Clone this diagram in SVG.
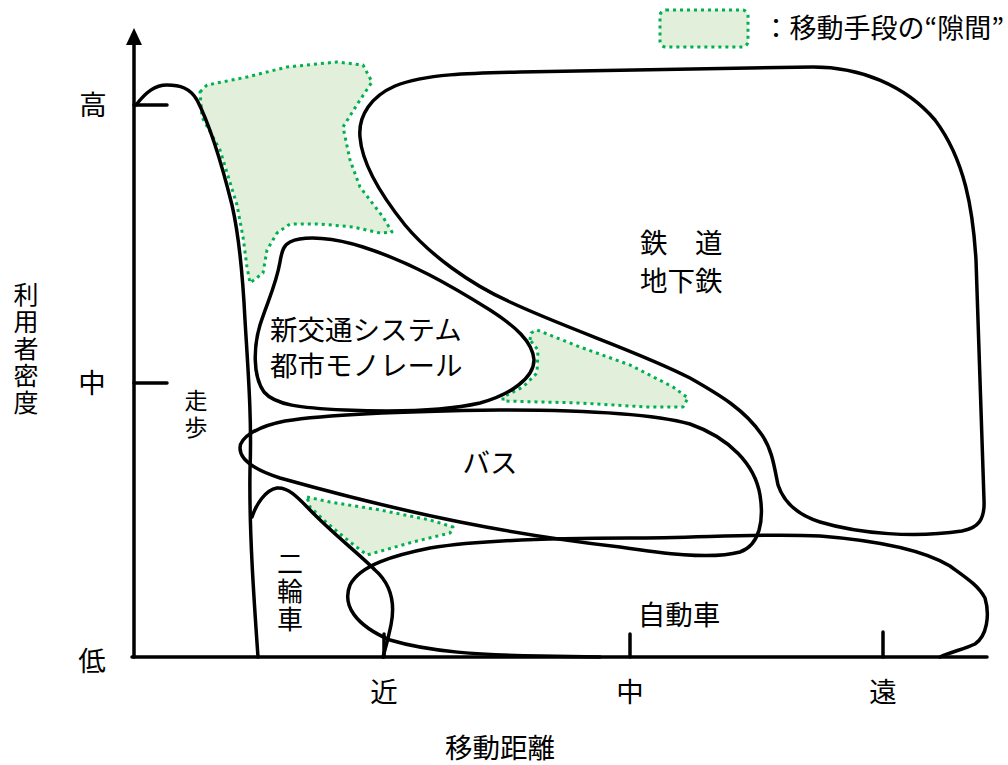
<svg xmlns="http://www.w3.org/2000/svg" width="1008" height="765" viewBox="0 0 1008 765">
<style>
.ln{fill:none;stroke:#000;stroke-width:3.5;stroke-linecap:round;stroke-linejoin:round}
.sh{fill:none;stroke:#000;stroke-width:3.5;stroke-linejoin:round}
.gap{fill:#e2efda;stroke:#00b050;stroke-width:3;stroke-dasharray:3 4;stroke-linejoin:round}
.t{font-family:"Noto Sans CJK JP","Noto Sans",sans-serif;font-size:27.5px;fill:#000}
.tm{text-anchor:middle}
.v{writing-mode:vertical-rl;text-orientation:upright}
</style>
<rect width="1008" height="765" fill="#fff"/>
<g id="gaps">
<path id="gap1" class="gap" d="M200,92 L207,85 L247,77 L287,67 L337,62 L363,65 L372,82 L360,100 L343,127 L350,160 L360,187 L383,217 L392,232 L380,233 L353,227 L320,224 L290,224 L277,233 L267,250 L263,273 L250,283 L247,267 L243,237 L237,205 L220,150 L202,117 Z"/>
<path id="gap2" class="gap" d="M530,340 L531,333 L537,330 L580,347 L630,365 L673,387 L688,398 L683,407 L647,407 L580,403 L503,401 L503,397 L523,387 L537,373 L538,350 Z"/>
<path id="gap3" class="gap" d="M307,497 L330,502 L380,510 L430,520 L453,527 L450,533 L413,542 L367,555 L350,542 L327,523 L310,507 Z"/>
</g>
<g id="axes">
<line class="ln" x1="134" y1="40" x2="134" y2="657" stroke-linecap="butt"/>
<polygon points="134,28 126,45 142,45" fill="#000"/>
<line class="ln" x1="132" y1="657" x2="987" y2="657" stroke-linecap="butt"/>
<line class="ln" x1="134" y1="105" x2="167" y2="105" stroke-linecap="butt"/>
<line class="ln" x1="134" y1="383" x2="167" y2="383" stroke-linecap="butt"/>
<line class="ln" x1="384" y1="634" x2="384" y2="657" stroke-linecap="butt"/>
<line class="ln" x1="630" y1="634" x2="630" y2="657" stroke-linecap="butt"/>
<line class="ln" x1="883" y1="632" x2="883" y2="657" stroke-linecap="butt"/>
</g>
<g id="walk">
<path class="ln" d="M136,105 C146,92 155,85 167,85 C180,85 190,88 197,100 C210,125 222,165 232,205 C240,240 243,280 245,320 C248,370 252,420 250,470 C249,530 254,600 258,657"/>
<text class="t v" style="font-size:23px;letter-spacing:4px" x="196" y="388.5">走歩</text>
</g>
<g id="rail">
<path class="sh" d="M360,137 C358,115 372,96 395,86 C425,74 470,73 520,72 L813,67 C860,67 905,85 935,120 C965,160 973,210 976,260 L984,500 C985,520 978,528 962,531 C915,538 860,534 820,522 C795,514 783,500 778,485 C774,465 772,450 762,435 C745,410 720,395 690,378 C640,352 570,330 510,302 C470,284 430,255 405,225 C385,200 362,165 360,137 Z"/>
<text class="t" x="640" y="253">鉄　道</text>
<text class="t" x="640" y="291">地下鉄</text>
</g>
<g id="monorail">
<path class="sh" d="M290,242 C305,235 335,238 363,247 C410,262 450,285 490,310 C515,326 533,342 534,360 C534,378 510,395 480,403 C440,412 390,412 345,410 C300,408 275,405 264,392 C252,375 254,345 260,325 C268,300 276,285 280,262 C282,250 284,245 290,242 Z"/>
<text class="t" x="270" y="340">新交通システム</text>
<text class="t" x="270" y="376">都市モノレール</text>
</g>
<g id="bus">
<path class="sh" d="M240,448 C240,438 255,427 285,421 C330,414 420,411 500,410 C580,410 650,413 690,424 C730,438 755,465 760,495 C764,520 760,545 740,552 C710,560 660,553 620,547 C560,540 510,532 460,522 C400,510 330,492 280,478 C255,470 240,460 240,448 Z"/>
<text class="t tm" x="490" y="473">バス</text>
</g>
<g id="bike">
<path class="ln" d="M252,517 C256,505 265,490 277,488 C290,487 300,500 315,515 C335,535 360,555 375,570 C392,585 395,605 391,625 C388,640 385,650 383,657"/>
<text class="t v" style="font-size:26px;letter-spacing:2px" x="290" y="550">二輪車</text>
</g>
<g id="car">
<path class="ln" d="M940,657 C950,652 965,649 975,644 C987,636 990,615 985,598 C978,585 965,577 950,566 C920,548 870,540 820,536 C760,533 700,538 630,538 C550,538 480,540 430,548 C395,555 360,565 350,585 C342,605 355,625 390,640 C430,652 480,655 540,656 L600,657"/>
<text class="t tm" x="679" y="625">自動車</text>
</g>
<g id="labels">
<text class="t tm" x="93" y="115">高</text>
<text class="t tm" x="92" y="393">中</text>
<text class="t tm" x="92" y="671">低</text>
<text class="t tm" x="384" y="702">近</text>
<text class="t tm" x="630" y="702">中</text>
<text class="t tm" x="883" y="702">遠</text>
<text class="t tm" x="500" y="758">移動距離</text>
<text class="t v" style="font-size:25px;letter-spacing:2px" x="26" y="282">利用者密度</text>
</g>
<g id="legend">
<rect class="gap" x="660" y="10" width="88" height="37" rx="6"/>
<text class="t" style="font-size:27px" x="1004" y="38" text-anchor="end">：移動手段の“隙間”</text>
</g>
</svg>
